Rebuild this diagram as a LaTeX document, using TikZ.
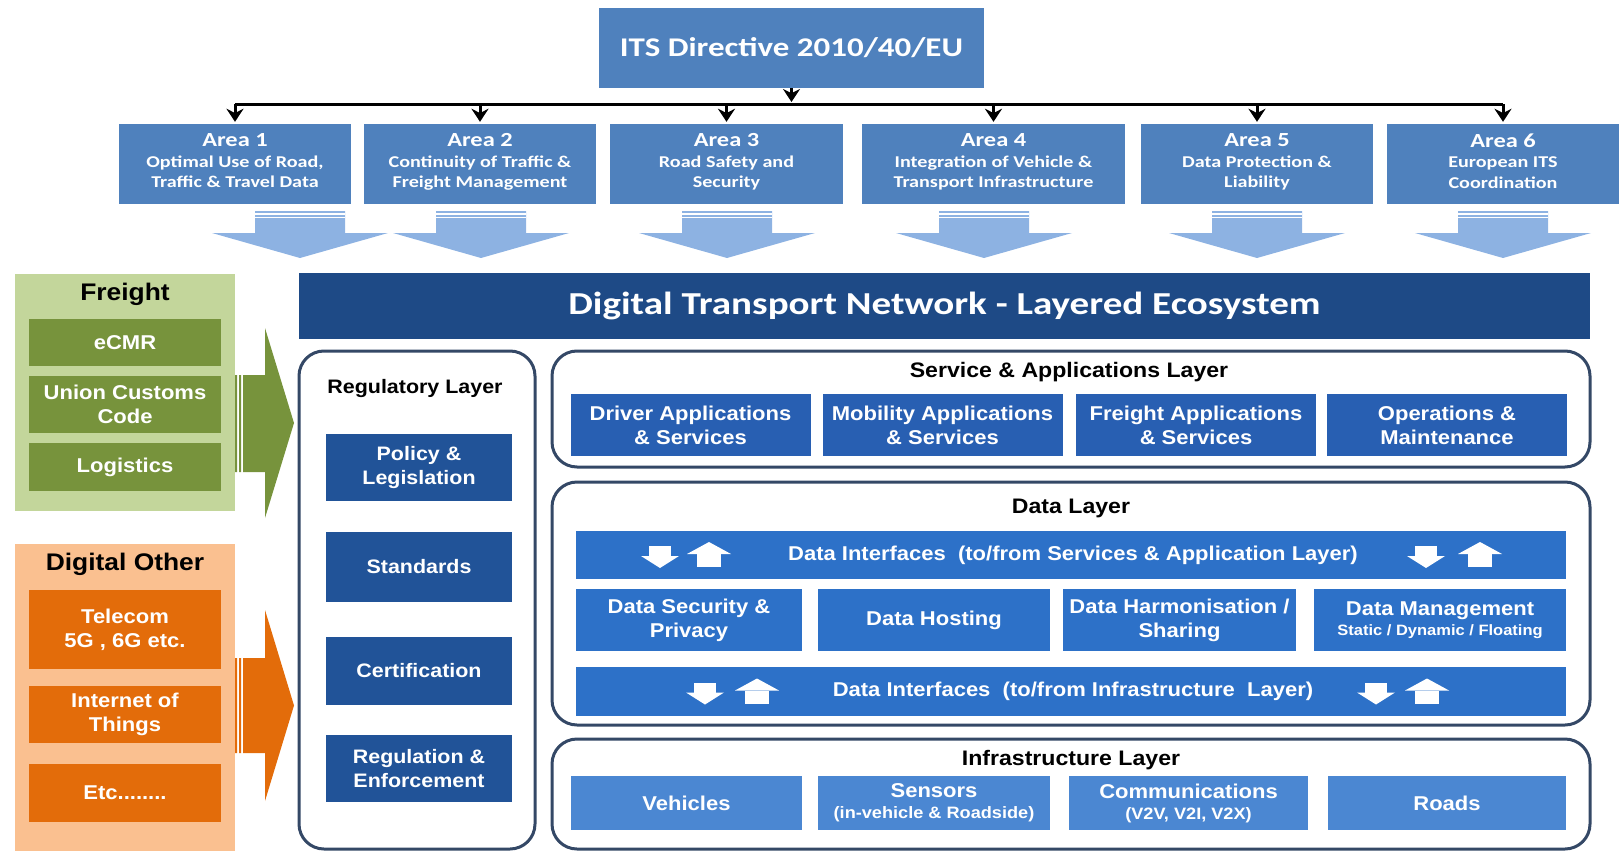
\documentclass[tikz,border=0pt]{standalone}
\usepackage{fontspec}
\setmainfont[FakeStretch=1.1]{Liberation Sans}
\newfontfamily\calfont[FakeStretch=1.22]{Carlito}
\usetikzlibrary{arrows.meta}

\definecolor{areablue}{RGB}{79,129,189}
\definecolor{titleblue}{RGB}{30,74,134}
\definecolor{regblue}{RGB}{33,83,152}
\definecolor{servblue}{RGB}{40,95,178}
\definecolor{datablue}{RGB}{45,113,200}
\definecolor{infrablue}{RGB}{75,135,210}
\definecolor{panelline}{RGB}{52,72,102}
\definecolor{flowblue}{RGB}{141,178,226}
\definecolor{freightbg}{RGB}{195,214,155}
\definecolor{freightgreen}{RGB}{119,147,60}
\definecolor{otherbg}{RGB}{250,192,144}
\definecolor{otherorange}{RGB}{227,108,10}

\begin{document}
\begin{tikzpicture}[x=1pt,y=-1pt,
    box/.style={text=white, align=center, inner sep=0pt, font=\bfseries\fontsize{20}{24}\selectfont},
    itsbox/.style={box, fill=areablue, minimum width=385pt, minimum height=80pt, font=\calfont\bfseries\fontsize{27}{30}\selectfont},
    areabox/.style={box, fill=areablue, minimum height=80pt, font=\calfont\bfseries\fontsize{16.5}{20.5}\selectfont},
    titlebar/.style={box, fill=titleblue, minimum width=1291pt, minimum height=66pt, font=\calfont\bfseries\fontsize{32}{34}\selectfont},
    sidepanel/.style={inner sep=0pt, minimum width=220pt},
    sidetitle/.style={font=\bfseries\fontsize{24}{28}\selectfont},
    freightbox/.style={box, fill=freightgreen, minimum width=192pt},
    otherbox/.style={box, fill=otherorange, minimum width=192pt},
    panel/.style={draw=panelline, line width=3pt, rounded corners=25pt, fill=white, inner sep=0pt},
    layertitle/.style={font=\bfseries\fontsize{21}{24}\selectfont},
    regbox/.style={box, fill=regblue, minimum width=186pt, font=\bfseries\fontsize{19.5}{24}\selectfont},
    servbox/.style={box, fill=servblue, minimum width=240pt, minimum height=62pt},
    databox/.style={box, fill=datablue, minimum height=62pt},
    infrabox/.style={box, fill=infrablue, minimum height=54pt},
    busarrow/.style={line width=3pt, -{Stealth[length=13pt,width=17pt]}, shorten >=2pt}]
  \useasboundingbox (0,0) rectangle (1619,851);

  % directive and areas
  \node[itsbox] (its) at (791.5,48) {ITS Directive 2010/40/EU};
  \coordinate (bus) at (791.5,104);
  \node[areabox, minimum width=232pt] (a1) at (235,164) {{\fontsize{20}{24}\selectfont Area 1}\\Optimal Use of Road,\\Traffic \& Travel Data\strut};
  \node[areabox, minimum width=232pt] (a2) at (480,164) {{\fontsize{20}{24}\selectfont Area 2}\\Continuity of Traffic \&\\Freight Management\strut};
  \node[areabox, minimum width=233pt] (a3) at (726.5,164) {{\fontsize{20}{24}\selectfont Area 3}\\Road Safety and\\Security\strut};
  \node[areabox, minimum width=263pt] (a4) at (993.5,164) {{\fontsize{20}{24}\selectfont Area 4}\\Integration of Vehicle \&\\Transport Infrastructure\strut};
  \node[areabox, minimum width=232pt] (a5) at (1257,164) {{\fontsize{20}{24}\selectfont Area 5}\\Data Protection \&\\Liability\strut};
  \node[areabox, minimum width=232pt] (a6) at (1503,164) {{\fontsize{20}{24}\selectfont Area 6}\\European ITS\\Coordination\strut};

  \draw[line width=3pt] (a1.north |- bus) -- (a6.north |- bus);
  \draw[busarrow] (its.south) -- (its.south |- bus);
  \foreach \n in {1,...,6}
    \draw[busarrow] (a\n.north |- bus) -- (a\n.north);

  % wide arrows down to the ecosystem
  \foreach \x in {300,481,727,984,1257,1503} {
    \fill[flowblue] ({\x-45},211) -- ({\x+45},211) -- ({\x+45},233) -- ({\x+88},233)
      -- (\x,258) -- ({\x-88},233) -- ({\x-45},233) -- cycle;
    \draw[white, line width=1.3pt] ({\x-45},214) -- ({\x+45},214);
    \draw[white, line width=1.3pt] ({\x-45},217.5) -- ({\x+45},217.5);
  }

  \node[titlebar] (dtn) at (944.5,306) {Digital Transport Network - Layered Ecosystem};

  % freight
  \node[sidepanel, fill=freightbg, minimum height=237pt] (freight) at (125,392.5) {};
  \node[sidetitle] (freightt) at (125,294) {Freight};
  \node[freightbox, minimum height=47pt] (ecmr) at (125,342.5) {eCMR};
  \node[freightbox, minimum height=57pt] (ucc) at (125,404.5) {Union Customs\\Code};
  \node[freightbox, minimum height=48pt] (logi) at (125,467) {Logistics};
  \fill[freightgreen] (235,375) rectangle (237,472) (239,375) rectangle (241,472)
    (243,375) rectangle (265,472);
  \fill[freightgreen] (265,328) -- (294,423) -- (265,518) -- cycle;

  % digital other
  \node[sidepanel, fill=otherbg, minimum height=307pt] (other) at (125,697.5) {};
  \node[sidetitle] (othert) at (125,564) {Digital Other};
  \node[otherbox, minimum height=79pt] (tele) at (125,629.5) {Telecom\\5G , 6G etc.};
  \node[otherbox, minimum height=57pt] (iot) at (125,714.5) {Internet of\\Things};
  \node[otherbox, minimum height=58pt] (etc) at (125,793) {Etc........};
  \fill[otherorange] (235,658) rectangle (237,753) (239,658) rectangle (241,753)
    (243,658) rectangle (265,753);
  \fill[otherorange] (265,610) -- (294,705.5) -- (265,801) -- cycle;

  % regulatory layer
  \node[panel, minimum width=236pt, minimum height=498pt] (reg) at (417,600) {};
  \node[layertitle, font=\bfseries\fontsize{19.5}{24}\selectfont] (regt) at (415,388) {Regulatory Layer};
  \node[regbox, minimum height=67pt] (policy) at (419,467.5) {Policy \&\\Legislation};
  \node[regbox, minimum height=70pt] (stand) at (419,567) {Standards};
  \node[regbox, minimum height=68pt] (cert) at (419,671) {Certification};
  \node[regbox, minimum height=67pt] (enf) at (419,768.5) {Regulation \&\\Enforcement};

  % service and applications layer
  \node[panel, minimum width=1038pt, minimum height=116pt] (serv) at (1071,409) {};
  \node[layertitle] (servt) at (1069,372) {Service \& Applications Layer};
  \node[servbox] (drv) at (690.5,425) {Driver Applications\\\& Services};
  \node[servbox] (mob) at (942.5,425) {Mobility Applications\\\& Services};
  \node[servbox] (frt) at (1196,425) {Freight Applications\\\& Services};
  \node[servbox] (ops) at (1447,425) {Operations \&\\Maintenance};

  % data layer
  \node[panel, minimum width=1038pt, minimum height=243pt] (data) at (1071,603.5) {};
  \node[layertitle] (datat) at (1071,508) {Data Layer};
  \node[databox, minimum width=990pt, minimum height=48pt] (ifup) at (1071,555) {};
  \node[box] at (1073,555) {Data Interfaces\ \ (to/from Services \& Application Layer)};
  \node[databox, minimum width=226pt] (sec) at (689,620) {Data Security \&\\Privacy};
  \node[databox, minimum width=232pt] (host) at (934,620) {Data Hosting};
  \node[databox, minimum width=233pt] (harm) at (1179.5,620) {Data Harmonisation /\\Sharing};
  \node[databox, minimum width=252pt] (mgmt) at (1440,620) {Data Management\\[-4pt]{\fontsize{15}{17}\selectfont Static / Dynamic / Floating}};
  \node[databox, minimum width=990pt, minimum height=49pt] (ifdn) at (1071,691.5) {};
  \node[box] at (1073,691.5) {Data Interfaces\ \ (to/from Infrastructure\ \ Layer)};
  \foreach \x/\y in {660/555, 1426/555, 705/691.5, 1376/691.5} {
    \fill[white] ({\x-11},{\y-9}) rectangle ({\x+11},{\y+1});
    \fill[white] ({\x-19},{\y+1}) -- (\x,{\y+13}) -- ({\x+19},{\y+1}) -- cycle;
  }
  \foreach \x/\y in {709/555, 1480/555, 757/691.5, 1427/691.5} {
    \fill[white] ({\x-22},{\y-1}) -- (\x,{\y-13}) -- ({\x+22},{\y-1}) -- cycle;
    \fill[white] ({\x-12},{\y-1}) rectangle ({\x+12},{\y+12});
  }

  % infrastructure layer
  \node[panel, minimum width=1038pt, minimum height=110pt] (infra) at (1071,794) {};
  \node[layertitle] (infrat) at (1071,760) {Infrastructure Layer};
  \node[infrabox, minimum width=231pt] (veh) at (686.5,803) {Vehicles};
  \node[infrabox, minimum width=232pt] (sens) at (934,803) {Sensors\\[-3pt]{\fontsize{16.5}{18}\selectfont (in-vehicle \& Roadside)}};
  \node[infrabox, minimum width=239pt] (comm) at (1188.5,803) {Communications\\[-3pt]{\fontsize{16.5}{18}\selectfont (V2V, V2I, V2X)}};
  \node[infrabox, minimum width=238pt] (road) at (1447,803) {Roads};
\end{tikzpicture}
\end{document}
